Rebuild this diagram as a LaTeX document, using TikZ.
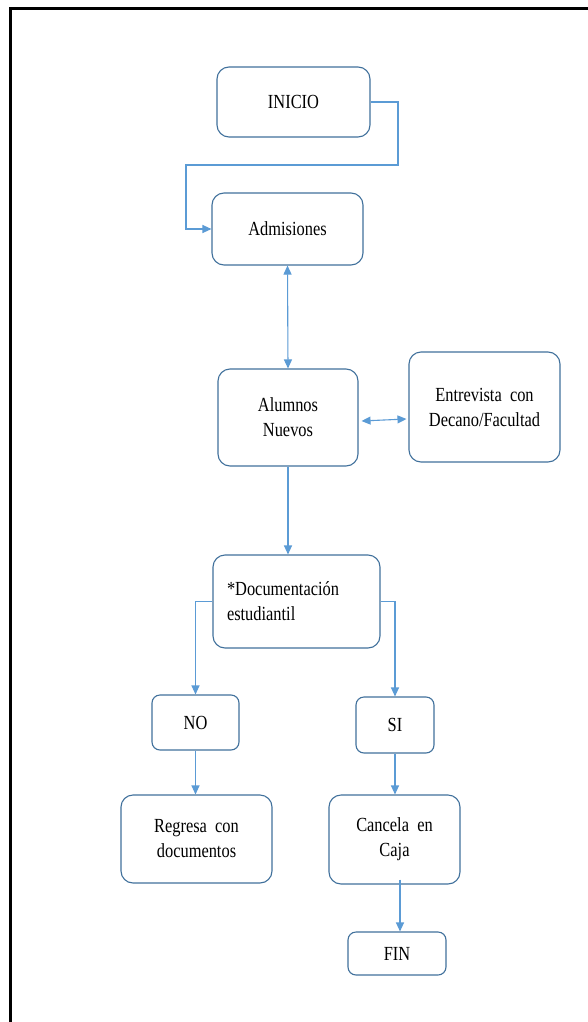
\documentclass[tikz,border=0pt]{standalone}
\usepackage{fontspec}
\setmainfont{Liberation Serif}[FakeStretch=0.82]
\usetikzlibrary{arrows.meta}
\definecolor{boxc}{HTML}{41719C}
\definecolor{linec}{HTML}{5B9BD5}
\begin{document}
\begin{tikzpicture}[x=1pt,y=-1pt,
  box/.style={draw=boxc,line width=1.1pt,rounded corners=12pt,fill=white,align=center,inner sep=0pt,
    font=\fontsize{20}{25}\selectfont},
  sbox/.style={box,rounded corners=8pt},
  conn/.style={draw=linec,line width=1.1pt},
  tip/.style={-{Triangle[length=9pt,width=8pt]}},
  dtip/.style={{Triangle[length=9pt,width=8pt]}-{Triangle[length=9pt,width=8pt]}}]
\useasboundingbox (0,0) rectangle (588,1022);
\fill[white] (0,0) rectangle (588,1022);
\draw[line width=3pt] (10.5,1022) -- (10.5,8.5) -- (588,8.5);

\node[box,minimum width=153pt,minimum height=70pt] (inicio) at (293.5,102) {INICIO};
\node[box,minimum width=151pt,minimum height=72pt] (adm) at (287.5,229) {Admisiones};
\node[box,minimum width=140pt,minimum height=97pt] (alum) at (288,417.5) {Alumnos\\Nuevos};
\node[box,minimum width=151pt,minimum height=110pt] (entre) at (484.5,407) {Entrevista\ \ con\\Decano/Facultad};
\node[box,minimum width=167pt,minimum height=93pt,align=left,text width=139pt] (doc) at (296.5,601.5) {*Documentación\\estudiantil};
\node[sbox,minimum width=87pt,minimum height=55pt] (no) at (195.5,722.5) {NO};
\node[sbox,minimum width=78pt,minimum height=56pt] (si) at (395,725) {SI};
\node[box,minimum width=151pt,minimum height=88pt] (reg) at (196.5,839) {Regresa\ \ con\\documentos};
\node[box,minimum width=131pt,minimum height=89pt] (canc) at (394.5,839.5) {Cancela\ \ en\\Caja};
\node[sbox,minimum width=98pt,minimum height=43pt] (fin) at (397,953.5) {FIN};

\coordinate (c1) at (398,102);
\coordinate (c2) at (398,165);
\coordinate (c3) at (186,165);
\draw[conn,tip] (inicio.east) -- (c1) -- (c2) -- (c3) |- (adm.west);
\draw[conn,dtip] (adm.south) -- (alum.north);
\draw[conn,dtip] ([xshift=3pt,yshift=-3.5pt]alum.east) -- ([xshift=-2pt,yshift=-12pt]entre.west);
\draw[conn,tip] (alum.south) -- (alum.south |- doc.north);
\draw[conn,tip] (doc.west) -| (no.north);
\draw[conn,tip] (doc.east) -| (si.north);
\draw[conn,tip] (no.south) -- (no.south |- reg.north);
\draw[conn,tip] (si.south) -- (si.south |- canc.north);
\draw[conn,tip] ([xshift=5.5pt,yshift=5pt]canc.south) -- ([xshift=3pt]fin.north);
\end{tikzpicture}
\end{document}
